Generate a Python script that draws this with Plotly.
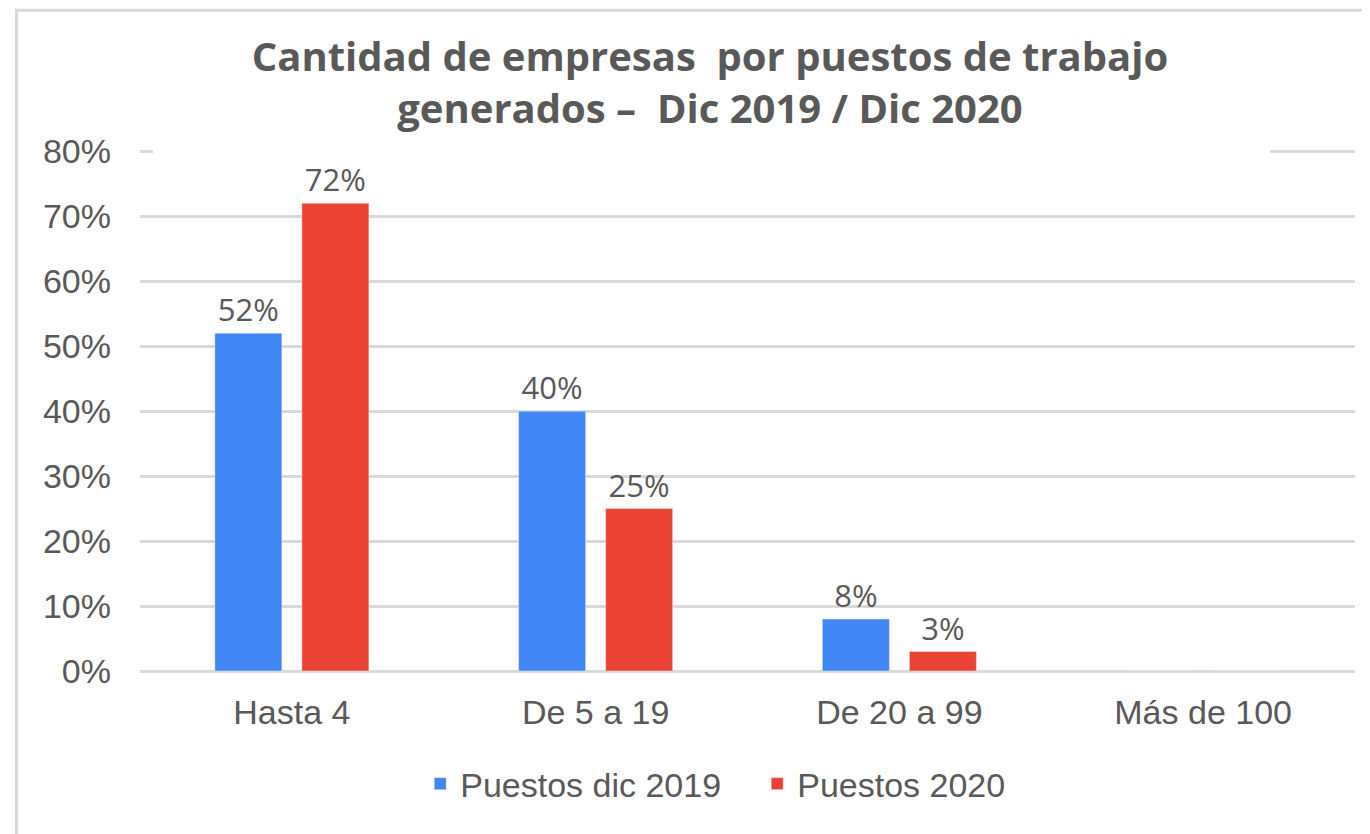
import plotly.graph_objects as go

categories = ['Hasta 4', 'De 5 a 19', 'De 20 a 99', 'Más de 100']
puestos_2019 = [52, 40, 8, 0]
puestos_2020 = [72, 25, 3, 0]
y_ticks = [0, 10, 20, 30, 40, 50, 60, 70, 80]
y_tick_text = ['{}%'.format(v) for v in y_ticks]

GREY = '#595959'
GRID = '#d9d9d9'


def _labels(values):
    return ['{}%'.format(v) if v else '' for v in values]


fig = go.Figure()
fig.add_trace(go.Bar(
    x=categories, y=puestos_2019, name='Puestos dic 2019',
    marker=dict(color='#4285F4'),
    text=_labels(puestos_2019), textposition='outside',
    textfont=dict(family='Open Sans', size=31, color=GREY),
    cliponaxis=False
))
fig.add_trace(go.Bar(
    x=categories, y=puestos_2020, name='Puestos 2020',
    marker=dict(color='#EA4335'),
    text=_labels(puestos_2020), textposition='outside',
    textfont=dict(family='Open Sans', size=31, color=GREY),
    cliponaxis=False
))

# outer frame of the original image (runs off the right/bottom edge)
fig.add_shape(type='rect', xref='paper', yref='paper',
              x0=-0.1016, x1=1.2, y0=-0.6, y1=1.268,
              line=dict(color=GRID, width=3), layer='above')
# the title box hides most of the 80% gridline
fig.add_shape(type='rect', xref='paper', yref='y',
              x0=0.0107, x1=0.93, y0=78.8, y1=81,
              fillcolor='white', line=dict(width=0), layer='above')

# page body adds an 8px offset, margins compensate for it
fig.update_layout(
    width=1370, height=834,
    margin=dict(l=132, r=23, t=142, b=171),
    paper_bgcolor='white', plot_bgcolor='white',
    barmode='group', bargap=0.427, bargroupgap=0.23,
    title=dict(
        text='Cantidad de empresas \u00a0por puestos de trabajo<br>generados –\u00a0 Dic 2019 / Dic 2020',
        x=0.5124, xanchor='center', y=0.925, yanchor='top',
        font=dict(family='Open Sans', size=40, color=GREY, weight='bold')
    ),
    font=dict(family='Liberation Sans, Arial', color=GREY, size=34),
    legend=dict(orientation='h', x=0.508, xanchor='center', y=-0.217, yanchor='middle',
                font=dict(size=34, color=GREY), itemwidth=30,
                entrywidth=292, entrywidthmode='pixels'),
    showlegend=True,
)
fig.update_xaxes(showgrid=False, showline=False, ticks='', ticklabelstandoff=18,
                 tickfont=dict(size=34, color=GREY))
fig.update_yaxes(range=[0, 80.2], tickvals=y_ticks, ticktext=y_tick_text,
                 showgrid=True, gridcolor=GRID, gridwidth=3,
                 zeroline=True, zerolinecolor=GRID, zerolinewidth=3,
                 ticks='', ticklabelstandoff=28,
                 tickfont=dict(size=34, color=GREY))

fig.write_html('out.html')
